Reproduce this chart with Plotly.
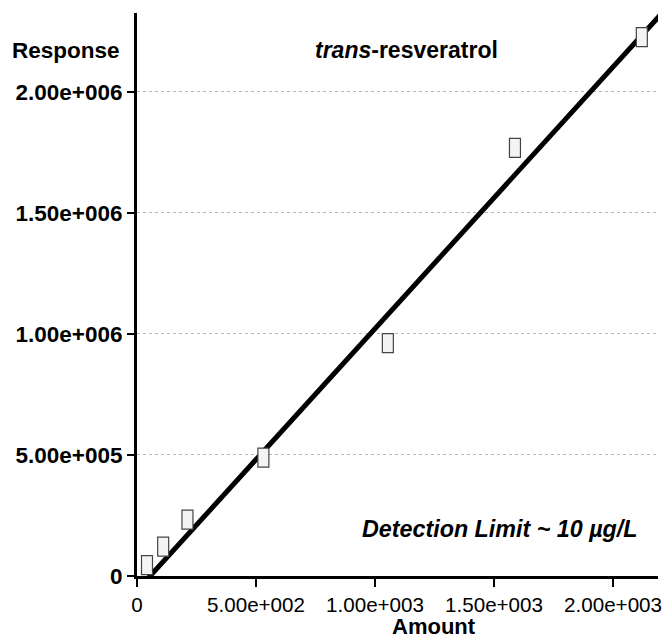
import plotly.graph_objects as go

# ---- data ----
amount = [42, 110, 212, 531, 1054, 1588, 2121]
response = [45e3, 121e3, 233e3, 489e3, 962e3, 1.769e6, 2.226e6]

fit_slope = 1081.4
fit_intercept = -59.5e3

x_tickvals = [0, 500, 1000, 1500, 2000]
x_ticktext = ["0", "5.00e+002", "1.00e+003", "1.50e+003", "2.00e+003"]
y_tickvals = [0, 5e5, 1e6, 1.5e6, 2e6]
y_ticktext = ["0", "5.00e+005", "1.00e+006", "1.50e+006", "2.00e+006"]

x_range = [0, 2189]
y_range = [0, 2.326e6]

FONT = "Liberation Sans, Arial, Helvetica, sans-serif"

fig = go.Figure()

# regression line
line_x = [x_range[0], x_range[1] + 100]
line_y = [fit_slope * v + fit_intercept for v in line_x]
fig.add_trace(go.Scatter(x=line_x, y=line_y, mode="lines",
                         line=dict(color="black", width=5),
                         hoverinfo="skip", showlegend=False))

# data points (invisible hover carrier)
fig.add_trace(go.Scatter(x=amount, y=response, mode="markers",
                         marker=dict(size=12, color="rgba(0,0,0,0)"),
                         showlegend=False))

# tall rectangular markers drawn as pixel-sized shapes anchored at data values
for xv, yv in zip(amount, response):
    fig.add_shape(type="rect", xref="x", yref="y",
                  xsizemode="pixel", ysizemode="pixel",
                  xanchor=xv, yanchor=yv,
                  x0=-5.5, x1=5.5, y0=-9.5, y1=9.5,
                  line=dict(color="#444444", width=1.2),
                  fillcolor="#f4f4f4", layer="above")

# page body has an 8px default margin, so margins are offset accordingly
fig.update_layout(
    width=670, height=638,
    margin=dict(l=129, r=20, t=5, b=70),
    paper_bgcolor="white", plot_bgcolor="white",
    font=dict(family=FONT, color="black"),
    showlegend=False,
    xaxis=dict(range=x_range, tickvals=x_tickvals, ticktext=x_ticktext,
               automargin=False,
               ticks="outside", ticklen=8, tickwidth=2, tickcolor="black",
               showline=True, linecolor="black", linewidth=3,
               showgrid=False, zeroline=False,
               tickfont=dict(family=FONT, size=20.6, color="black")),
    yaxis=dict(range=y_range, tickvals=y_tickvals, ticktext=y_ticktext,
               automargin=False,
               ticks="outside", ticklen=7, tickwidth=2, tickcolor="black",
               showline=True, linecolor="black", linewidth=3,
               showgrid=True, gridcolor="#b8b8b8", griddash="dot", gridwidth=1,
               zeroline=False,
               tickfont=dict(family=FONT, size=22.5, color="black", weight="bold")),
    annotations=[
        dict(text="<b>Response</b>", xref="paper", yref="y", x=0, y=2.173e6,
             xanchor="right", yanchor="middle", xshift=-15, showarrow=False,
             font=dict(family=FONT, size=22.5, color="black")),
        dict(text="<b>Amount</b>", xref="paper", yref="paper",
             x=(434 - 137) / 521, y=0, xanchor="center", yanchor="middle",
             yshift=-50, showarrow=False,
             font=dict(family=FONT, size=22, color="black")),
        dict(text="<b><i>trans</i>-resveratrol</b>", xref="paper", yref="paper",
             x=(406 - 137) / 521, y=(576 - 50) / 563, xanchor="center", yanchor="middle",
             showarrow=False, font=dict(family=FONT, size=23, color="black")),
        dict(text="<b><i>Detection Limit ~ 10 µg/L</i></b>", xref="paper", yref="paper",
             x=(500 - 137) / 521, y=(576 - 529) / 563, xanchor="center", yanchor="middle",
             showarrow=False, font=dict(family=FONT, size=23.3, color="black")),
    ],
)

fig.write_html("out.html")
